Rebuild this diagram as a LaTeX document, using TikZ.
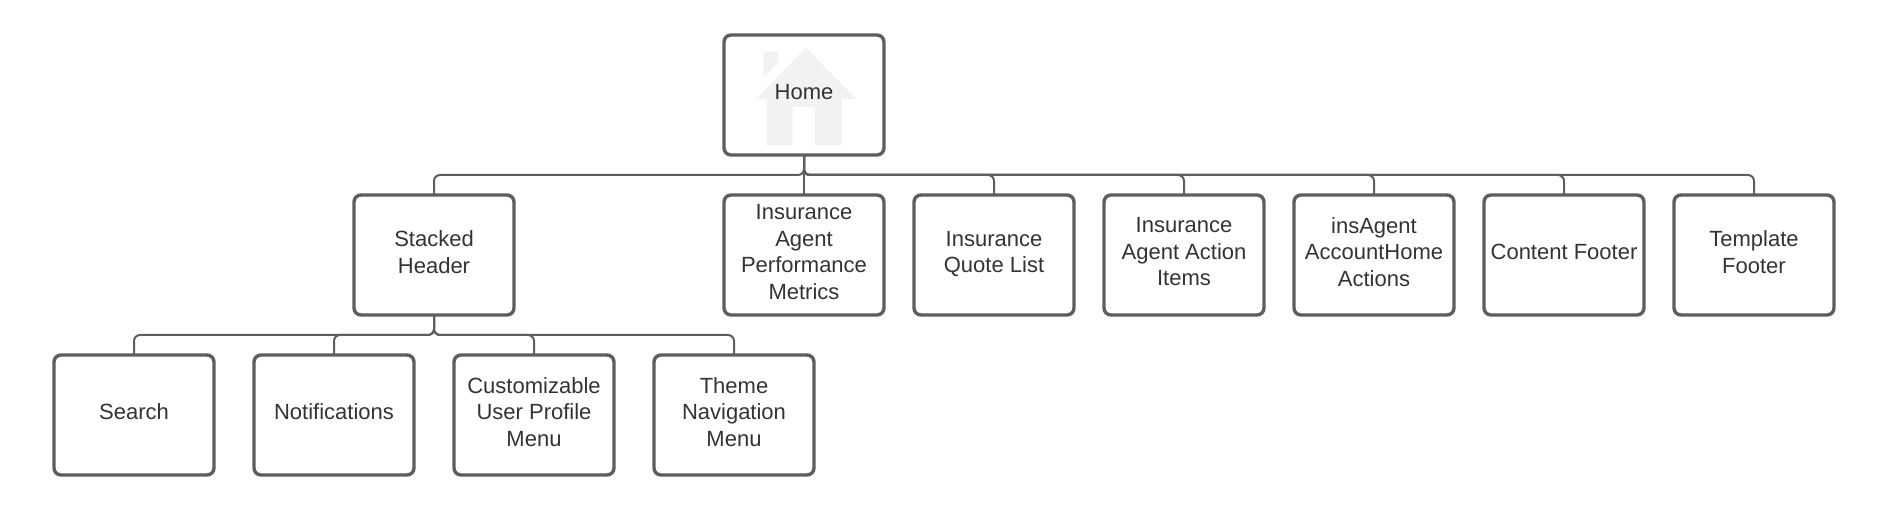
\documentclass[tikz,border=0pt]{standalone}
\usepackage{fontspec}
\setmainfont{Liberation Sans}
\usetikzlibrary{positioning}
\usetikzlibrary{backgrounds}
\definecolor{boxline}{HTML}{5E5E5E}
\definecolor{wireline}{HTML}{5E5E5E}
\definecolor{boxtext}{HTML}{333333}
\definecolor{houseicon}{HTML}{F2F2F2}

\begin{document}
\begin{tikzpicture}[
  x = 0.5pt,
  y = -0.5pt,
  page/.style = {
    draw,
    rectangle,
    rounded corners = 3.5pt,
    draw = boxline,
    line width = 1.7pt,
    outer sep = 0pt,
    inner sep = 1pt,
    align = center,
    text = boxtext,
    text depth = 3.2pt,
    font = \fontsize{11}{13.25}\selectfont,
    minimum width = 80pt,
    minimum height = 60pt,
  },
  wire/.style = {
    draw = wireline,
    line width = 1pt,
    rounded corners = 3pt,
  },
  house/.style = {
    fill = houseicon,
  },
]

  \useasboundingbox (0,0) rectangle (1892,513);

  \node[page] (home) at (804,95) {Home};

  \node[page] (perf) [below=20pt of home] {Insurance\\Agent\\Performance\\Metrics};
  \node[page] (quote) [right=15pt of perf] {Insurance\\Quote List};
  \node[page] (action) [right=15pt of quote] {Insurance\\Agent Action\\Items};
  \node[page] (acct) [right=15pt of action] {insAgent\\AccountHome\\Actions};
  \node[page] (content) [right=15pt of acct] {Content Footer};
  \node[page] (template) [right=15pt of content] {Template\\Footer};
  \node[page] (stacked) [left=105pt of perf] {Stacked\\Header};

  \node[page] (search) [below=20pt of stacked, xshift=-150pt] {Search};
  \node[page] (notif) [right=20pt of search] {Notifications};
  \node[page] (profile) [right=20pt of notif] {Customizable\\User Profile\\Menu};
  \node[page] (theme) [right=20pt of profile] {Theme\\Navigation\\Menu};

  \coordinate[below=10pt of home.south] (homebus);
  \coordinate[below=10pt of stacked.south] (stackedbus);

  \draw[wire] (home.south) -- (homebus) -| (stacked.north);
  \draw[wire] (home.south) -- (perf.north);
  \draw[wire] (home.south) -- (homebus) -| (quote.north);
  \draw[wire] (home.south) -- (homebus) -| (action.north);
  \draw[wire] (home.south) -- (homebus) -| (acct.north);
  \draw[wire] (home.south) -- (homebus) -| (content.north);
  \draw[wire] (home.south) -- (homebus) -| (template.north);

  \draw[wire] (stacked.south) -- (stackedbus) -| (search.north);
  \draw[wire] (stacked.south) -- (stackedbus) -| (notif.north);
  \draw[wire] (stacked.south) -- (stackedbus) -| (profile.north);
  \draw[wire] (stacked.south) -- (stackedbus) -| (theme.north);

  % faint icon behind the top box
  \begin{scope}[on background layer, shift={(home.center)}]
    \fill[house] (2,-47.5) -- (52,4) -- (38,4) -- (38,50) -- (11,50)
      -- (11,12) -- (-11.5,12) -- (-11.5,50) -- (-37.5,50) -- (-37.5,4) -- (-48,4) -- cycle;
    \fill[house] (-40.5,-43.5) -- (-26,-43.5) -- (-26,-32.5) -- (-40.5,-17.5) -- cycle;
  \end{scope}

\end{tikzpicture}
\end{document}
